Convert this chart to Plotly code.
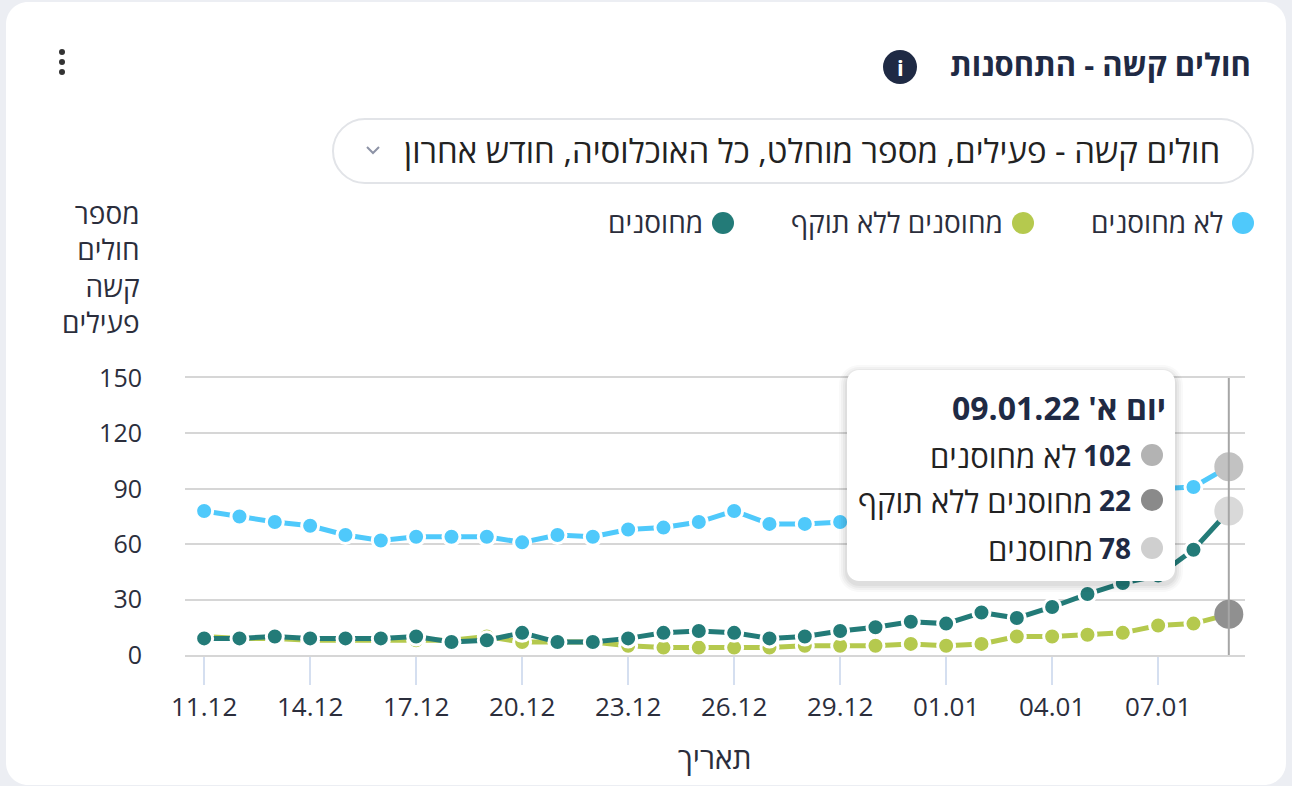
import plotly.graph_objects as go

# data (active severe patients, last month)
dates = ['2021-12-11', '2021-12-12', '2021-12-13', '2021-12-14', '2021-12-15',
         '2021-12-16', '2021-12-17', '2021-12-18', '2021-12-19', '2021-12-20',
         '2021-12-21', '2021-12-22', '2021-12-23', '2021-12-24', '2021-12-25',
         '2021-12-26', '2021-12-27', '2021-12-28', '2021-12-29', '2021-12-30',
         '2021-12-31', '2022-01-01', '2022-01-02', '2022-01-03', '2022-01-04',
         '2022-01-05', '2022-01-06', '2022-01-07', '2022-01-08', '2022-01-09']
unvaccinated = [78, 75, 72, 70, 65, 62, 64, 64, 64, 61, 65, 64, 68, 69, 72,
                78, 71, 71, 72, 73, 75, 76, 79, 80, 83, 85, 88, 90, 91, 102]
expired = [10, 9, 9, 8, 8, 8, 8, 8, 10, 7, 7, 7, 5, 4, 4,
           4, 4, 5, 5, 5, 6, 5, 6, 10, 10, 11, 12, 16, 17, 22]
vaccinated = [9, 9, 10, 9, 9, 9, 10, 7, 8, 12, 7, 7, 9, 12, 13,
              12, 9, 10, 13, 15, 18, 17, 23, 20, 26, 33, 39, 43, 57, 78]

series_names = ['לא מחוסנים', 'מחוסנים ללא תוקף', 'מחוסנים']
series_colors = ['#4fc9fb', '#b5c94e', '#237b78']
hover_colors = ['#c2c2c2', '#909090', '#d9d9d9']
tooltip_dot_colors = ['#b3b3b3', '#8a8a8a', '#cfcfcf']

tick_vals = ['2021-12-11', '2021-12-14', '2021-12-17', '2021-12-20', '2021-12-23',
             '2021-12-26', '2021-12-29', '2022-01-01', '2022-01-04', '2022-01-07']
tick_text = ['11.12', '14.12', '17.12', '20.12', '23.12',
             '26.12', '29.12', '01.01', '04.01', '07.01']

title_text = 'חולים קשה - התחסנות'
dropdown_text = 'חולים קשה - פעילים, מספר מוחלט, כל האוכלוסיה, חודש אחרון'
y_title = 'מספר<br>חולים<br>קשה<br>פעילים'
x_title = 'תאריך'
hover_title = "יום א' 09.01.22"

FONT = 'Open Sans, DejaVu Sans, sans-serif'
DARK = '#1f2a44'
TEXT = '#2b2e3c'

W, H = 1292, 786
ML, MR, MT, MB = 185, 47, 378, 131
PW, PH = W - ML - MR, H - MT - MB


# pixel -> paper helpers
def px(x):
    return (x - ML) / PW


def py(y):
    return (H - MB - y) / PH


def rrect(x0, y0, x1, y1, r):
    k = 0.5523 * r
    pts = [('M', [(x0 + r, y0)]), ('L', [(x1 - r, y0)]),
           ('C', [(x1 - r + k, y0), (x1, y0 + r - k), (x1, y0 + r)]),
           ('L', [(x1, y1 - r)]),
           ('C', [(x1, y1 - r + k), (x1 - r + k, y1), (x1 - r, y1)]),
           ('L', [(x0 + r, y1)]),
           ('C', [(x0 + r - k, y1), (x0, y1 - r + k), (x0, y1 - r)]),
           ('L', [(x0, y0 + r)]),
           ('C', [(x0, y0 + r - k), (x0 + r - k, y0), (x0 + r, y0)])]
    out = ''
    for cmd, p in pts:
        out += cmd + ' '.join(f'{px(a):.5f},{py(b):.5f}' for a, b in p) + ' '
    return out + 'Z'


def circle(cx, cy, r, color):
    return dict(type='circle', xref='paper', yref='paper',
                x0=px(cx - r), x1=px(cx + r), y0=py(cy + r), y1=py(cy - r),
                fillcolor=color, line=dict(width=0), layer='above')


fig = go.Figure()

for name, vals, col in zip(series_names, [unvaccinated, expired, vaccinated], series_colors):
    fig.add_trace(go.Scatter(
        x=dates, y=vals, name=name, mode='lines+markers',
        line=dict(color=col, width=5),
        marker=dict(size=17, color=col, line=dict(color='white', width=3)),
        cliponaxis=False, showlegend=False))

# hovered point markers
last_vals = [unvaccinated[-1], expired[-1], vaccinated[-1]]
fig.add_trace(go.Scatter(
    x=[dates[-1]] * 3, y=last_vals, mode='markers',
    marker=dict(size=29, color=hover_colors, line=dict(width=0)),
    cliponaxis=False, showlegend=False))

shapes = [
    dict(type='path', path=rrect(6, 2, 1286, 785, 22), xref='paper', yref='paper',
         fillcolor='white', line=dict(width=0), layer='below'),
    dict(type='line', xref='x', yref='paper', x0=dates[-1], x1=dates[-1], y0=0, y1=1,
         line=dict(color='#a6a6a6', width=2), layer='above'),
    # dropdown pill
    dict(type='path', path=rrect(333, 119, 1253, 183, 32), xref='paper', yref='paper',
         fillcolor='white', line=dict(color='#e2e4e8', width=2), layer='above'),
    dict(type='path', xref='paper', yref='paper', layer='above',
         path=f'M{px(367):.5f},{py(147):.5f} L{px(373):.5f},{py(153):.5f} L{px(379):.5f},{py(147):.5f}',
         line=dict(color='#8d93a6', width=2)),
    # info icon
    circle(900, 67, 17, DARK),
]
# kebab menu dots
for cy in [52, 62, 72]:
    shapes.append(circle(62, cy, 3, '#333'))
# legend dots
for cx, col in zip([1243, 1023, 723], series_colors):
    shapes.append(circle(cx, 223, 11, col))
# tooltip shadow and box
for i, a in enumerate([0.025, 0.03, 0.035, 0.04]):
    g = 8 - 2 * i
    shapes.append(dict(type='path', path=rrect(847 - g, 370 - g + 3, 1175 + g, 581 + g + 3, 12 + g),
                       xref='paper', yref='paper', fillcolor=f'rgba(0,0,0,{a})',
                       line=dict(width=0), layer='above'))
shapes.append(dict(type='path', path=rrect(847, 370, 1175, 581, 12), xref='paper', yref='paper',
                   fillcolor='white', line=dict(width=0), layer='above'))
for cy, col in zip([455, 500, 548], tooltip_dot_colors):
    shapes.append(circle(1152, cy, 11, col))


def ann(x, y, text, size, color=TEXT, xanchor='right', **kw):
    return dict(xref='paper', yref='paper', x=px(x), y=py(y), text=text, showarrow=False,
                xanchor=xanchor, yanchor='middle',
                font=dict(family=FONT, size=size, color=color), **kw)


annotations = [
    ann(1253, 64, f'<b>{title_text}</b>', 31, DARK),
    ann(900, 67, '<b>i</b>', 22, 'white', xanchor='center'),
    ann(1222, 151, dropdown_text, 33, '#222'),
    ann(1225, 222, series_names[0], 28),
    ann(1005, 222, series_names[1], 28),
    ann(705, 222, series_names[2], 28),
    ann(715, 757, x_title, 30, xanchor='center'),
    ann(1168, 407, f'<b>{hover_title}</b>', 32, DARK),
    ann(142, 267, y_title, 28, align='right'),
]
# tooltip rows: bold value next to the dot, series name to its left
for cy, v, name in zip([455, 500, 548], last_vals, series_names):
    annotations.append(ann(1133, cy, f'<b>{v}</b>', 28, DARK))
    num_w = 16 * len(str(v))
    annotations.append(ann(1133 - num_w - 6, cy + 1, name, 31, '#222'))

fig.update_layout(
    width=W, height=H,
    margin=dict(l=ML, r=MR, t=MT, b=MB),
    paper_bgcolor='#eceef3', plot_bgcolor='white',
    font=dict(family=FONT, size=25, color=TEXT),
    shapes=shapes, annotations=annotations,
    hovermode=False,
)
fig.update_xaxes(
    type='date', range=['2021-12-10 11:00', '2022-01-09 11:00'],
    tickvals=tick_vals, ticktext=tick_text, showgrid=False,
    ticks='outside', ticklen=28, tickwidth=2, tickcolor='#d5dff0',
    tickfont=dict(size=26, color=TEXT), showline=True, mirror=True,
    linecolor='#d6d6d6', linewidth=2,
)
fig.update_yaxes(
    range=[0, 150], tickvals=[0, 30, 60, 90, 120, 150], showgrid=True,
    gridcolor='#d6d6d6', gridwidth=2, zeroline=False, ticks='',
    ticklabelstandoff=42, tickfont=dict(size=25, color=TEXT),
)

fig.write_html("out.html", config={'displayModeBar': False},
               post_script="document.body.style.margin='0';")
